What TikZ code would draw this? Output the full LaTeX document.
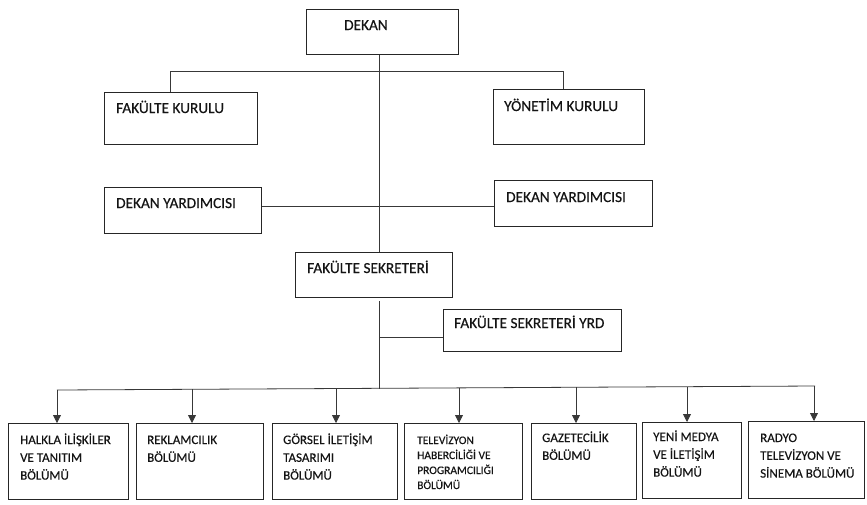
\documentclass[tikz,border=0pt]{standalone}
\usepackage{fontspec}
\setmainfont{Carlito}[FakeBold=0.35]
\newfontfamily\semib{Carlito}[FakeBold=0.35]
\usetikzlibrary{arrows.meta,calc}
\tikzset{
  box/.style={draw=black!85, line width=0.8pt, inner sep=0pt, rectangle},
  conn/.style={draw=black!78, line width=0.8pt},
  arr/.style={conn, -{Triangle[width=8pt,length=8pt]}},
  txt/.style={inner sep=0pt, text=black!92},
  big/.style={font=\semib\fontsize{15.3}{19}\selectfont},
  mid/.style={font=\semib\fontsize{13}{17.8}\selectfont},
  small/.style={font=\semib\fontsize{11.5}{15}\selectfont}
}
\newcommand\ob[5]{\node[box, anchor=north west, minimum width={(#4-#2)*1pt}, minimum height={(#5-#3)*1pt}] (#1) at (#2,#3) {};}
\newcommand\ot[5]{\node[txt, anchor=base west, #4] (#1) at (#2,#3) {\parbox[t]{160pt}{\raggedright #5}};}
\begin{document}
\begin{tikzpicture}[x=1pt,y=-1pt]
\useasboundingbox (0,0) rectangle (867,504);
% boxes
\ob{dekan}{306}{9}{458}{54}
\ob{fk}{104}{92}{257}{144}
\ob{yk}{493}{89}{644}{144}
\ob{dyl}{104}{187}{261}{233}
\ob{dyr}{494}{180}{652}{226}
\ob{fs}{295}{252}{452}{297}
\ob{yrd}{443}{309}{621}{351}
\ob{b1}{8}{423}{128}{499}
\ob{b2}{136}{423}{263}{499}
\ob{b3}{272}{423}{397}{499}
\ob{b4}{404}{423}{522}{499}
\ob{b5}{531}{423}{636}{499}
\ob{b6}{642}{422}{741}{498}
\ob{b7}{748}{421}{864}{498}
% texts
\ot{dekan-t}{344}{30}{big}{DEKAN}
\ot{fk-t}{116}{113}{big}{FAKÜLTE KURULU}
\ot{yk-t}{504}{111}{big}{YÖNETİM KURULU}
\ot{dyl-t}{116}{208}{big}{DEKAN YARDIMCISI}
\ot{dyr-t}{506}{202}{big}{DEKAN YARDIMCISI}
\ot{fs-t}{307}{273}{big}{FAKÜLTE SEKRETERİ}
\ot{yrd-t}{454}{328}{big}{FAKÜLTE SEKRETERİ YRD}
\ot{b1-t}{20}{444}{mid}{HALKLA İLİŞKİLER\\VE TANITIM\\BÖLÜMÜ}
\ot{b2-t}{147}{444}{mid}{REKLAMCILIK\\BÖLÜMÜ}
\ot{b3-t}{283}{444}{mid}{GÖRSEL İLETİŞİM\\TASARIMI\\BÖLÜMÜ}
\ot{b4-t}{417}{444}{small}{TELEVİZYON\\HABERCİLİĞİ VE\\PROGRAMCILIĞI\\BÖLÜMÜ}
\ot{b5-t}{542}{442}{mid}{GAZETECİLİK\\BÖLÜMÜ}
\ot{b6-t}{653}{441}{mid}{YENİ MEDYA\\VE İLETİŞİM\\BÖLÜMÜ}
\ot{b7-t}{760}{442}{mid}{RADYO\\TELEVİZYON VE\\SİNEMA BÖLÜMÜ}
% junction coordinates
\coordinate (j1) at (379,71);
\coordinate (j2) at (170,71);
\coordinate (j3) at (563,71);
\coordinate (j4) at (379,206);
\coordinate (j5) at (379,301);
\coordinate (j6) at (379,337);
\coordinate (bus) at (379,389);
\coordinate (bl) at (57,390);
\coordinate (br) at (815,386);
\coordinate (a1) at (57,390);
\coordinate (a2) at (192,389);
\coordinate (a3) at (336,388);
\coordinate (a4) at (459,388);
\coordinate (a5) at (576,387);
\coordinate (a6) at (687,387);
\coordinate (a7) at (814,386);
% connectors
\draw[conn] (dekan.south -| j1) -- (fs.north -| j1);
\draw[conn] (j2 |- fk.north) -- (j2) -- (j3) -- (j3 |- yk.north);
\draw[conn] (dyl.east |- j4) -- (dyr.west |- j4);
\draw[conn] (j5) -- (bus);
\draw[conn] (j6) -- (j6 -| yrd.west);
\draw[conn] (bl) -- (br);
\draw[arr] (a1) -- (a1 |- b1.north);
\draw[arr] (a2) -- (a2 |- b2.north);
\draw[arr] (a3) -- (a3 |- b3.north);
\draw[arr] (a4) -- (a4 |- b4.north);
\draw[arr] (a5) -- (a5 |- b5.north);
\draw[arr] (a6) -- (a6 |- b6.north);
\draw[arr] (a7) -- (a7 |- b7.north);
\end{tikzpicture}
\end{document}
